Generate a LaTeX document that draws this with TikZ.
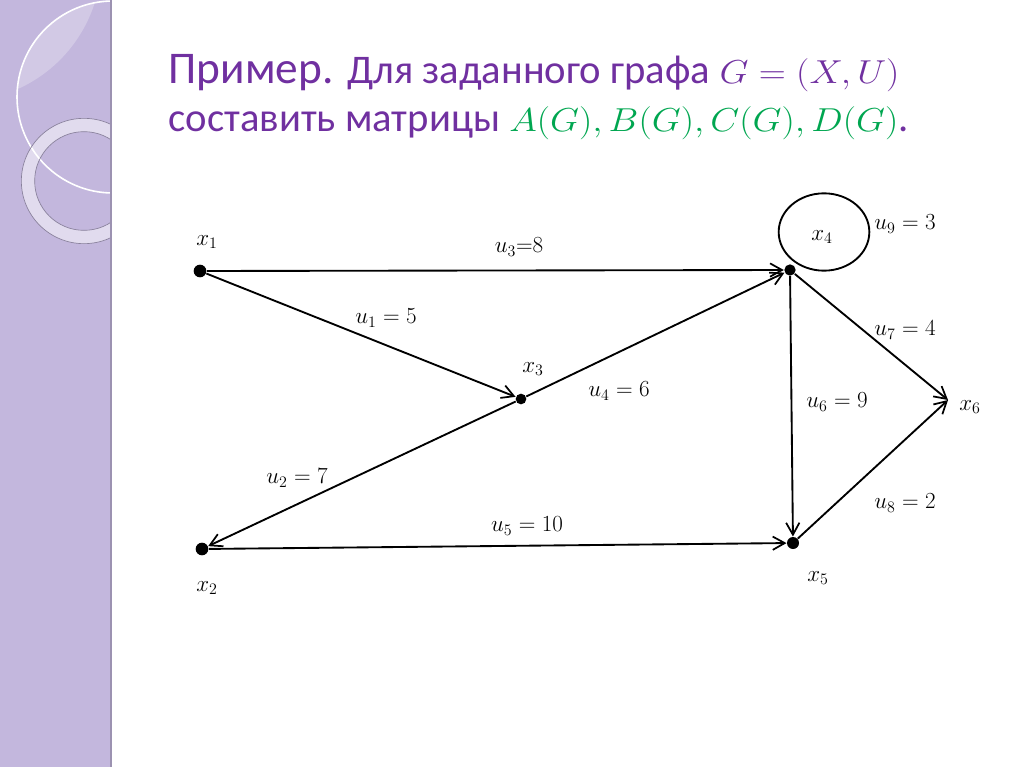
\documentclass[tikz,border=0pt]{standalone}
\usepackage{fontspec}
\usepackage{graphicx}
\setmainfont{Carlito}
\usetikzlibrary{arrows.meta}
\definecolor{slidepurple}{RGB}{112,48,160}
\definecolor{slidegreen}{RGB}{0,166,80}
\definecolor{bandlilac}{RGB}{195,183,221}
\newcommand{\widemath}[1]{\scalebox{1.13}[1]{$#1$}}
\tikzset{
	vertex/.style={circle,fill=black,inner sep=0pt,minimum size=9.5pt},
	edge/.style={line width=1.4pt,-{Straight Barb[length=9pt,width=10pt,line width=1.3pt]}},
	wlabel/.style={inner sep=1pt,font=\fontsize{18}{21}\selectfont}}
\tikzset{every picture/.style={line width=0.75pt}}
\begin{document}
\begin{tikzpicture}[x=0.75pt,y=0.75pt,yscale=-1,xscale=1]
	\useasboundingbox (0,0) rectangle (1024,767);

	%Shape: Band [id:band]
	\fill [bandlilac] (0,0) rectangle (111,767);
	\begin{scope}
		\clip (0,0) rectangle (111,767);
		\begin{scope}
			\clip (113,97) circle [radius=72pt];
			\fill [white,fill opacity=0.25] (-40,-40) circle [radius=106pt];
		\end{scope}
		\draw [white,line width=1.2pt] (113,97) circle [radius=72pt];
		\fill [white,fill opacity=0.5,even odd rule] (84,181) circle [radius=47pt] (84,181) circle [radius=37pt];
		\draw [bandlilac!70!black,line width=0.5pt] (84,181) circle [radius=47pt] (84,181) circle [radius=37pt];
	\end{scope}
	\draw [bandlilac!80!black,line width=1pt] (111,0) -- (111,767);

	% Text Node
	\node (title1) [anchor=base west,inner sep=0pt,text=slidepurple] at (168,84) {\fontsize{34}{40}\selectfont Пример. \fontsize{30.5}{36}\selectfont Для заданного графа \widemath{G=(X,U)}};
	% Text Node
	\node (title2) [anchor=base west,inner sep=0pt,text=slidepurple] at (168,132) {\fontsize{30.5}{36}\selectfont составить матрицы \textcolor{slidegreen}{\widemath{A(G),B(G),C(G),D(G)}}.};

	%Shape: Circle (vertices)
	\node (x1) [vertex] at (200,271) {};
	\node (x2) [vertex] at (202,549) {};
	\node (x3) [vertex,minimum size=8pt] at (521,399) {};
	\node (x4) [vertex,minimum size=8.5pt] at (790,270) {};
	\node (x5) [vertex,minimum size=9pt] at (793,543) {};
	\coordinate (x6) at (948,400);
	\coordinate (lp) at (824,232);

	%Straight Lines
	\draw [edge] (x1) -- (x4);
	\draw [edge] (x1) -- (x3);
	\draw [edge] (x3) -- (x4);
	\draw [edge] (x3) -- (x2);
	\draw [edge] (x2) -- (x5);
	\draw [edge] (x4) -- (x5);
	\draw [edge] (x4) -- (x6);
	\draw [edge] (x5) -- (x6);
	%Shape: Ellipse (loop)
	\draw [line width=1.4pt] (lp) ellipse [x radius=34pt,y radius=29pt];

	% Text Node
	\node (lx1) [wlabel] at (207,242) {$x_1$};
	% Text Node
	\node (lx2) [wlabel] at (207,588) {$x_2$};
	% Text Node
	\node (lx3) [wlabel] at (533,369) {$x_3$};
	% Text Node
	\node (lx4) [wlabel] at (822,237) {$x_4$};
	% Text Node
	\node (lx5) [wlabel] at (818,578) {$x_5$};
	% Text Node
	\node (lx6) [wlabel] at (970,407) {$x_6$};
	% Text Node
	\node (lu1) [wlabel] at (386,318) {$u_1=5$};
	% Text Node
	\node (lu2) [wlabel] at (297,478) {$u_2=7$};
	% Text Node
	\node (lu3) [wlabel] at (519,247) {$u_3{=}8$};
	% Text Node
	\node (lu4) [wlabel] at (619,391) {$u_4=6$};
	% Text Node
	\node (lu5) [wlabel] at (527,526) {$u_5=10$};
	% Text Node
	\node (lu6) [wlabel] at (837,402) {$u_6=9$};
	% Text Node
	\node (lu7) [wlabel] at (905,330) {$u_7=4$};
	% Text Node
	\node (lu8) [wlabel] at (905,503) {$u_8=2$};
	% Text Node
	\node (lu9) [wlabel] at (905,224) {$u_9=3$};

\end{tikzpicture}
\end{document}
